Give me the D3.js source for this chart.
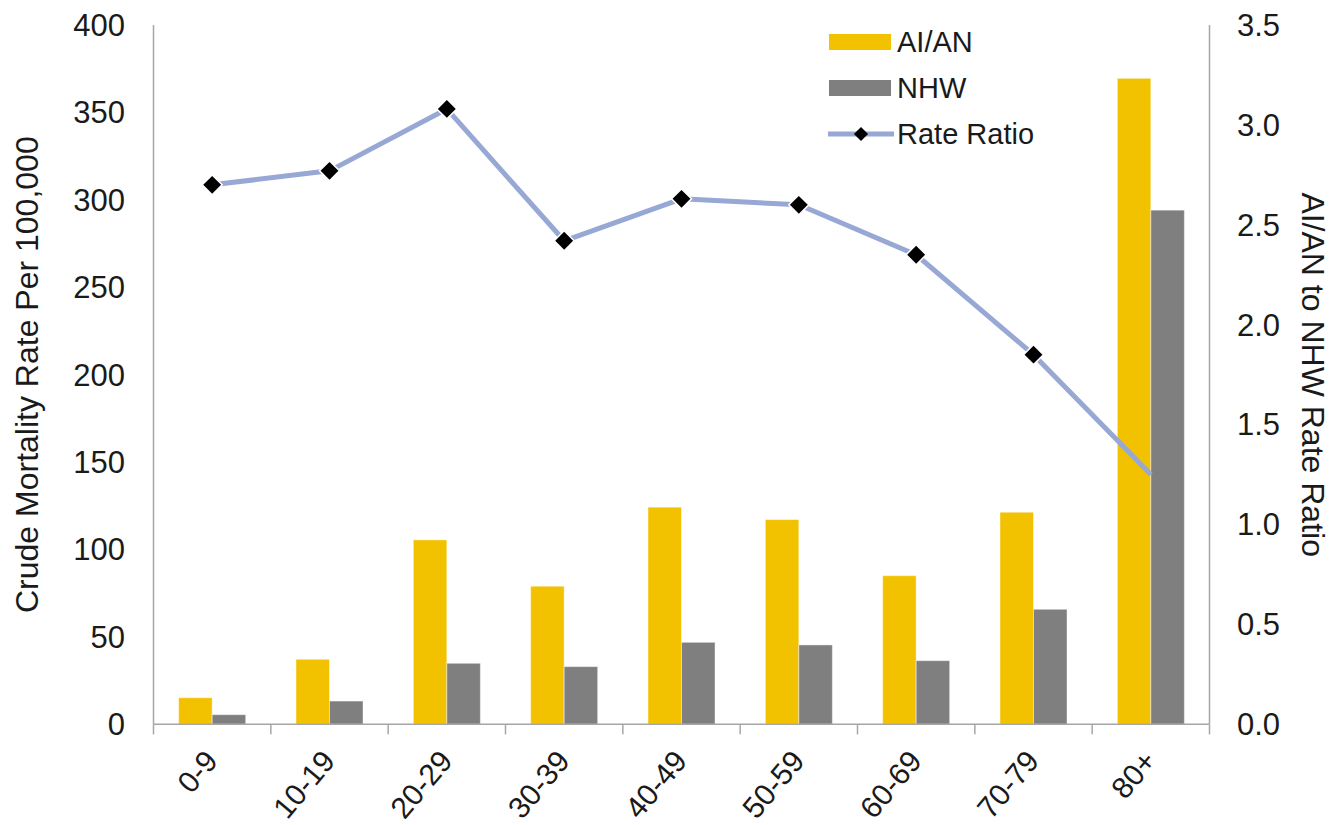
<!DOCTYPE html>
<html>
<head>
<meta charset="utf-8">
<script src="https://cdn.jsdelivr.net/npm/d3@7"></script>
<style>
  body { margin: 0; background: #fff; }
  svg { display: block; }
  text { font-family: "Liberation Sans", Arial, sans-serif; fill: #1a1a1a; }
</style>
</head>
<body>
<svg id="chart" width="1333" height="825"></svg>
<script>
// Crude mortality rate per 100,000 by age group, with AI/AN : NHW rate ratio
const ageGroups = ["0-9", "10-19", "20-29", "30-39", "40-49", "50-59", "60-69", "70-79", "80+"];
const aianRate  = [15.2, 37.2, 105.5, 79.0, 124.2, 117.1, 85.0, 121.3, 369.5];
const nhwRate   = [5.5, 13.3, 34.9, 33.0, 46.9, 45.4, 36.4, 65.8, 294.1];
const rateRatio = [2.70, 2.77, 3.08, 2.42, 2.63, 2.60, 2.35, 1.85, 1.25];
const barSeries = ["AI/AN", "NHW"];
const lineSeries = "Rate Ratio";
const leftTicks  = [0, 50, 100, 150, 200, 250, 300, 350, 400];
const rightTicks = [0, 0.5, 1.0, 1.5, 2.0, 2.5, 3.0, 3.5];
const leftTitle  = "Crude Mortality Rate Per 100,000";
const rightTitle = "AI/AN to NHW Rate Ratio";

const colors = { "AI/AN": "#F2C200", "NHW": "#7F7F7F", line: "#98A8D4", marker: "#000" };
const axisColor = "#A6A6A6";

const svg = d3.select("#chart");
const plot = { left: 153.5, right: 1209.5, top: 25, bottom: 724.3 };

const x0 = d3.scaleBand().domain(ageGroups).range([plot.left, plot.right]).padding(0);
const x1 = d3.scaleBand().domain(barSeries).range([0, x0.bandwidth()]).paddingInner(0).paddingOuter(0.75);
const yL = d3.scaleLinear().domain([0, 400]).range([plot.bottom, plot.top]);
const yR = d3.scaleLinear().domain([0, 3.5]).range([plot.bottom, plot.top]);

// Bars
const barData = ageGroups.map((g, i) => ({ group: g, values: [
  { key: "AI/AN", value: aianRate[i] },
  { key: "NHW", value: nhwRate[i] }
]}));

const groups = svg.append("g").selectAll("g")
  .data(barData).join("g")
  .attr("transform", d => `translate(${x0(d.group)},0)`);

groups.selectAll("rect")
  .data(d => d.values).join("rect")
  .attr("x", d => x1(d.key))
  .attr("width", x1.bandwidth())
  .attr("y", d => yL(d.value))
  .attr("height", d => yL(0) - yL(d.value))
  .attr("fill", d => colors[d.key])
  .attr("stroke", "#fff")
  .attr("stroke-opacity", 0.45)
  .attr("stroke-width", 1);

// Axes
const axisG = svg.append("g");
axisG.append("line")
  .attr("x1", plot.left).attr("x2", plot.right)
  .attr("y1", plot.bottom).attr("y2", plot.bottom)
  .attr("stroke", axisColor).attr("stroke-width", 1.5);
// tick marks at category boundaries
const bounds = ageGroups.map(g => x0(g)).concat([plot.right]);
axisG.selectAll("line.tick").data(bounds).join("line")
  .attr("class", "tick")
  .attr("x1", d => d).attr("x2", d => d)
  .attr("y1", plot.bottom).attr("y2", plot.bottom + 10)
  .attr("stroke", axisColor).attr("stroke-width", 1.5);

// vertical axis lines
axisG.append("line")
  .attr("x1", plot.left).attr("x2", plot.left)
  .attr("y1", plot.top).attr("y2", plot.bottom)
  .attr("stroke", axisColor).attr("stroke-width", 1.5);
axisG.append("line")
  .attr("x1", plot.right).attr("x2", plot.right)
  .attr("y1", plot.top).attr("y2", plot.bottom)
  .attr("stroke", axisColor).attr("stroke-width", 1.5);

// Left tick labels
svg.append("g").selectAll("text").data(leftTicks).join("text")
  .attr("x", 125).attr("y", d => yL(d))
  .attr("dy", "0.35em")
  .attr("text-anchor", "end")
  .attr("font-size", 31)
  .text(d => d);

// Right tick labels
svg.append("g").selectAll("text").data(rightTicks).join("text")
  .attr("x", 1237).attr("y", d => yR(d))
  .attr("dy", "0.35em")
  .attr("text-anchor", "start")
  .attr("font-size", 31)
  .text(d => d.toFixed(1));

// Category labels
svg.append("g").selectAll("text").data(ageGroups).join("text")
  .attr("transform", d => `translate(${x0(d) + x0.bandwidth() / 2 - 9},${plot.bottom + 24}) rotate(-50)`)
  .attr("text-anchor", "end")
  .attr("dy", "0.7em")
  .attr("font-size", 30)
  .text(d => d);

// Axis titles
svg.append("text")
  .attr("transform", `translate(38,${(plot.top + plot.bottom) / 2}) rotate(-90)`)
  .attr("text-anchor", "middle")
  .attr("font-size", 32)
  .text(leftTitle);
svg.append("text")
  .attr("transform", `translate(1302,${(plot.top + plot.bottom) / 2}) rotate(90)`)
  .attr("text-anchor", "middle")
  .attr("font-size", 32)
  .text(rightTitle);

// Rate ratio line
const cx = g => x0(g) + x0.bandwidth() / 2;
const line = d3.line().x((d, i) => cx(ageGroups[i])).y(d => yR(d));
svg.append("path")
  .datum(rateRatio)
  .attr("d", line)
  .attr("fill", "none")
  .attr("stroke", colors.line)
  .attr("stroke-width", 5)
  .attr("stroke-linejoin", "round");

const diamond = d3.symbol().type(d3.symbolSquare).size(200);
svg.append("g").selectAll("path")
  .data(rateRatio.slice(0, rateRatio.length - 1)).join("path")
  .attr("d", diamond)
  .attr("transform", (d, i) => `translate(${cx(ageGroups[i])},${yR(d)}) rotate(45)`)
  .attr("fill", colors.marker)
  .attr("stroke", "#fff")
  .attr("stroke-width", 1.5);

// Legend
const legend = svg.append("g");
const legendRows = [
  { key: "AI/AN", y: 42 },
  { key: "NHW", y: 88 },
  { key: lineSeries, y: 134 }
];
legendRows.forEach(r => {
  if (r.key === lineSeries) {
    legend.append("line")
      .attr("x1", 828).attr("x2", 894).attr("y1", r.y).attr("y2", r.y)
      .attr("stroke", colors.line).attr("stroke-width", 5);
    legend.append("path")
      .attr("d", d3.symbol().type(d3.symbolSquare).size(100))
      .attr("transform", `translate(861,${r.y}) rotate(45)`)
      .attr("fill", colors.marker);
  } else {
    legend.append("rect")
      .attr("x", 829).attr("y", r.y - 8).attr("width", 62).attr("height", 16)
      .attr("fill", colors[r.key]);
  }
  legend.append("text")
    .attr("x", 897).attr("y", r.y).attr("dy", "0.35em")
    .attr("font-size", 29)
    .text(r.key);
});
</script>
</body>
</html>
